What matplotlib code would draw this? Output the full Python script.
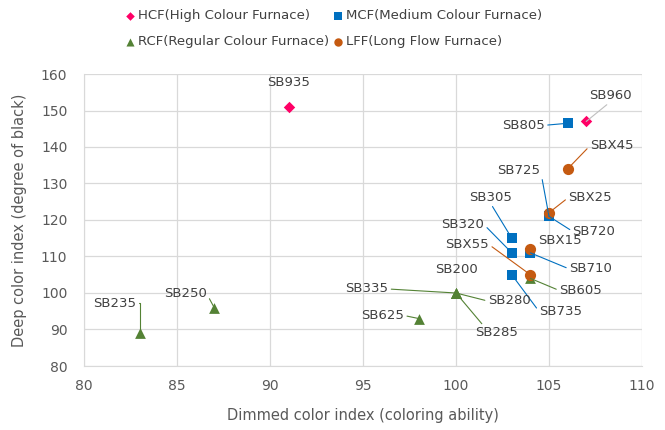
import matplotlib
matplotlib.use("Agg")
import matplotlib.pyplot as plt

# ---- data ----
hcf_names = ["SB935", "SB960"]
hcf_x = [91, 107]
hcf_y = [151, 147]

mcf_names = ["SB805", "SB725", "SB720", "SB305", "SB320", "SB710", "SB735"]
mcf_x = [106, 105, 105, 103, 103, 104, 103]
mcf_y = [146.5, 121, 121, 115, 111, 111, 105]

rcf_names = ["SB605", "SB200", "SB335", "SB280", "SB285", "SB625", "SB235", "SB250"]
rcf_x = [104, 100, 100, 100, 100, 98, 83, 87]
rcf_y = [104, 100, 100, 100, 100, 93, 89, 96]

lff_names = ["SBX45", "SBX25", "SBX55", "SBX15"]
lff_x = [106, 105, 104, 104]
lff_y = [134, 122, 105, 112]

x_ticks = [80, 85, 90, 95, 100, 105, 110]
y_ticks = [80, 90, 100, 110, 120, 130, 140, 150, 160]

# ---- label placement (offset pixels, relpos, connection style) ----
label_style = {
    "SB935": ((0, 24), None, None),
    "SB960": ((24, 26), (0.5, 0), None),
    "SB805": ((-44, -2), (1, 0.5), None),
    "SBX45": ((44, 23), (0, 0.5), None),
    "SB725": ((-30, 46), (1, 0.5), None),
    "SBX25": ((41, 15), (0, 0.5), None),
    "SB720": ((45, -15), (0, 0.5), None),
    "SB305": ((-21, 41), (0.5, 0), None),
    "SB320": ((-49, 28), (1, 0.5), None),
    "SBX55": ((-63, 30), (1, 0.5), None),
    "SBX15": ((30, 9), None, None),
    "SB710": ((60, -16), (0, 0.5), None),
    "SB605": ((50, -12), (0, 0.5), None),
    "SB735": ((49, -37), (0, 0.5), None),
    "SB200": ((0, 23), None, None),
    "SB335": ((-89, 4), (1, 0.5), None),
    "SB280": ((53, -8), (0, 0.5), None),
    "SB285": ((41, -40), (0.2, 1), None),
    "SB625": ((-36, 3), (1, 0.5), None),
    "SB235": ((-25, 30), (1, 0.5), "angle,angleA=0,angleB=90,rad=0"),
    "SB250": ((-29, 14), (1, 0.5), None),
}

text_color = "#404040"
axis_color = "#595959"
plt.rcParams["font.family"] = ["DejaVu Sans"]

fig = plt.figure(figsize=(6.65, 4.3), dpi=100)
ax = fig.add_axes([84 / 665, 64 / 430, (642 - 84) / 665, (366 - 74) / 430])

series = [
    ("HCF(High Colour Furnace)", hcf_names, hcf_x, hcf_y, "D", "#FF0066", 34, "#BFBFBF"),
    ("MCF(Medium Colour Furnace)", mcf_names, mcf_x, mcf_y, "s", "#0070C0", 55, "#0070C0"),
    ("RCF(Regular Colour Furnace)", rcf_names, rcf_x, rcf_y, "^", "#548235", 60, "#548235"),
    ("LFF(Long Flow Furnace)", lff_names, lff_x, lff_y, "o", "#C55A11", 65, "#C55A11"),
]

handles = {}
for label, names, xs, ys, mk, col, s, lcol in series:
    h = ax.scatter(xs, ys, marker=mk, s=s, color=col, label=label, zorder=3, linewidths=0)
    handles[label] = h
    for n, xv, yv in zip(names, xs, ys):
        off, rel, cs = label_style[n]
        kw = {}
        if rel is not None:
            ap = dict(arrowstyle="-", color=lcol, lw=0.8,
                      shrinkA=0, shrinkB=0, relpos=rel)
            if cs:
                ap["connectionstyle"] = cs
            kw["arrowprops"] = ap
        ax.annotate(n, (xv, yv), xytext=off, textcoords="offset pixels",
                    ha="center", va="center", fontsize=9.5, color=text_color,
                    zorder=4, **kw)

ax.set_xlim(80, 110)
ax.set_ylim(80, 160)
ax.set_xticks(x_ticks)
ax.set_yticks(y_ticks)
ax.grid(True, color="#D9D9D9", lw=0.9)
ax.set_axisbelow(True)
for sp in ["top", "right"]:
    ax.spines[sp].set_visible(False)
ax.spines["left"].set_color("#D9D9D9")
ax.spines["bottom"].set_color("#D9D9D9")
ax.tick_params(length=0, labelsize=10, colors=axis_color)
ax.tick_params(axis="y", pad=12)
ax.tick_params(axis="x", pad=9)
ax.set_xlabel("Dimmed color index (coloring ability)", fontsize=10.5, color=axis_color, labelpad=11)
ax.set_ylabel("Deep color index (degree of black)", fontsize=10.5, color=axis_color, labelpad=10)

order = ["HCF(High Colour Furnace)", "RCF(Regular Colour Furnace)",
         "MCF(Medium Colour Furnace)", "LFF(Long Flow Furnace)"]
fig.legend([handles[o] for o in order], order, loc="upper left",
           bbox_to_anchor=(114 / 665, 1.0), ncol=2, frameon=False,
           fontsize=9.5, labelcolor=text_color, markerscale=0.75,
           handletextpad=0.1, handlelength=1.0, columnspacing=0.2,
           labelspacing=1.0, borderaxespad=0.3)

fig.savefig("out.png", dpi=100)
